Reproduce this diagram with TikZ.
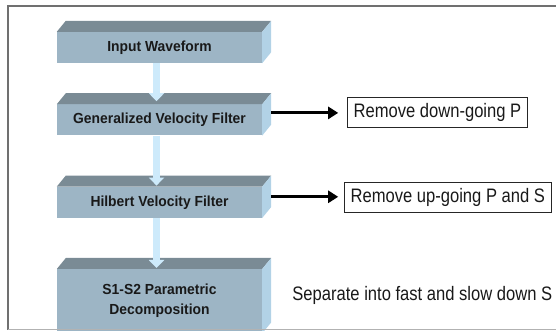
\documentclass[tikz,border=0pt]{standalone}
\usepackage{fontspec}
\setmainfont{Liberation Sans}
\newfontfamily\slabfont[FakeStretch=0.95]{Liberation Sans}
\newfontfamily\notefont[FakeStretch=0.85]{Liberation Sans}
\usetikzlibrary{positioning,calc,arrows.meta}

\definecolor{slabfront}{HTML}{9DB5C5}
\definecolor{slabtop}{HTML}{7A8B95}
\definecolor{slabside}{HTML}{B2D2E6}
\definecolor{flowblue}{HTML}{CDEAFB}
\definecolor{framegray}{HTML}{707070}

\tikzset{
    slab/.style = {rectangle, minimum width=205pt, minimum height=31pt, inner sep=0pt, fill=slabfront, text=black!90, align=center, font=\slabfont\bfseries\fontsize{14.6}{20}\selectfont},
    note/.style = {rectangle, draw=black!85, line width=0.8pt, inner xsep=6pt, inner ysep=0pt, minimum height=30pt, text=black!90, font=\notefont\fontsize{19.5}{22}\selectfont},
    flow/.style = {draw=flowblue, line width=6.5pt, -{Triangle[width=15pt,length=8pt]}},
    arrow/.style = {line width=3pt, -{Triangle[width=12pt,length=10pt]}}
}

\begin{document}
\begin{tikzpicture}[x=1pt,y=1pt]
\useasboundingbox (0,0) rectangle (556,331);
\clip (0,0) rectangle (556,331);

% processing chain
\node (wave) [slab] at (159.5,283.5) {Input Waveform};
\node (gvf) [slab, below=41pt of wave] {Generalized Velocity Filter};
\node (hvf) [slab, below=51pt of gvf] {Hilbert Velocity Filter};
\node (decomp) [slab, minimum height=64pt, below=51pt of hvf] {S1-S2 Parametric\\Decomposition};

% top and side faces of the slabs
\foreach \s in {wave,gvf,hvf,decomp} {
    \fill [slabtop] (\s.north west) -- ++(9,11) -- ($(\s.north east)+(9,11)$) -- (\s.north east) -- cycle;
    \fill [slabside] (\s.north east) -- ++(9,11) -- ($(\s.south east)+(9,11)$) -- (\s.south east) -- cycle;
}

% what each step removes
\node (downp) [note, right=85pt of gvf, yshift=7pt] {Remove down-going P};
\node (upps) [note, right=82pt of hvf, yshift=4.5pt] {Remove up-going P and S};
\node (split) [right=30pt of decomp, yshift=6pt, inner sep=0pt, text=black!90, font=\notefont\fontsize{19.5}{22}\selectfont] {Separate into fast and slow down S};

\draw [flow] ([xshift=-3pt]wave.south) -- ([xshift=-3pt,yshift=3pt]gvf.north);
\draw [flow] ([xshift=-3pt]gvf.south) -- ([xshift=-3pt,yshift=1pt]hvf.north);
\draw [flow] ([xshift=-3pt]hvf.south) -- ([xshift=-3pt,yshift=1pt]decomp.north);

\draw [arrow] ([xshift=9pt,yshift=7pt]gvf.east) -- ([xshift=-9pt]downp.west);
\draw [arrow] ([xshift=9pt,yshift=5.5pt]hvf.east) -- ([xshift=-6pt,yshift=1pt]upps.west);

% frame
\draw [framegray, line width=1.5pt] (8,1) -- (8,325) -- (556,325);
\draw [black!30, line width=1pt] (8,1) -- (556,1);
\end{tikzpicture}
\end{document}
